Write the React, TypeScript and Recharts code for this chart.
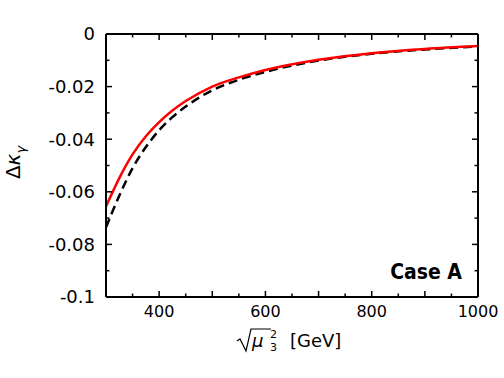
import { LineChart, Line, XAxis, YAxis } from 'recharts'

// sqrt(mu3^2) in GeV
const mu3 = [300, 325, 350, 375, 400, 425, 450, 500, 550, 600, 700, 800, 900, 1000]
// Delta kappa_gamma, full result (red, solid)
const kappaFull = [
  -0.0656, -0.0548, -0.0458, -0.0389, -0.0335, -0.0291, -0.0255, -0.02, -0.0165, -0.0137, -0.0098,
  -0.0073, -0.0057, -0.0046,
]
// Delta kappa_gamma, approximation (black, dashed)
const kappaApprox = [
  -0.0735, -0.0615, -0.051, -0.043, -0.0366, -0.0316, -0.0276, -0.0214, -0.0174, -0.0144, -0.0101,
  -0.0075, -0.0059, -0.0047,
]

const xTicks = [300, 350, 400, 450, 500, 550, 600, 650, 700, 750, 800, 850, 900, 950, 1000]
const xLabels = [400, 600, 800, 1000]
const yTicks = [-0.1, -0.09, -0.08, -0.07, -0.06, -0.05, -0.04, -0.03, -0.02, -0.01, 0]
const yLabels = [-0.1, -0.08, -0.06, -0.04, -0.02, 0]

const data = mu3.map((x, i) => ({ x, full: kappaFull[i], approx: kappaApprox[i] }))

const FONT = "'DejaVu Sans', sans-serif"
const MAJOR = 6
const MINOR = 3.5

const isMajorX = (v: number) => v % 100 === 0
const isMajorY = (v: number) => yLabels.includes(v)

function BottomTick({ x, y, payload }: any) {
  const v = payload.value
  const len = isMajorX(v) ? MAJOR : MINOR
  return (
    <g>
      <line x1={x} y1={y} x2={x} y2={y - len} stroke="#000" strokeWidth={1.5} />
      {xLabels.includes(v) && (
        <text x={x} y={y + 20} textAnchor="middle" fontSize={16} fontFamily={FONT} fill="#000">
          {v}
        </text>
      )}
    </g>
  )
}

function TopTick({ x, y, payload }: any) {
  const len = isMajorX(payload.value) ? MAJOR : MINOR
  return <line x1={x} y1={y} x2={x} y2={y + len} stroke="#000" strokeWidth={1.5} />
}

function LeftTick({ x, y, payload }: any) {
  const v = payload.value
  const len = isMajorY(v) ? MAJOR : MINOR
  return (
    <g>
      <line x1={x} y1={y} x2={x + len} y2={y} stroke="#000" strokeWidth={1.5} />
      {yLabels.includes(v) && (
        <text x={x - 11} y={y} dy="0.36em" textAnchor="end" fontSize={18} fontFamily={FONT} fill="#000">
          {String(v)}
        </text>
      )}
    </g>
  )
}

function RightTick({ x, y, payload }: any) {
  const len = isMajorY(payload.value) ? MAJOR : MINOR
  return <line x1={x} y1={y} x2={x - len} y2={y} stroke="#000" strokeWidth={1.5} />
}

function XTitle({ viewBox }: any) {
  const cx = viewBox.x + viewBox.width / 2
  const by = 347
  return (
    <g fontFamily={FONT} fill="#000">
      <path
        d={`M${cx - 55},${by - 6} L${cx - 52},${by - 8} L${cx - 46},${by + 4} L${cx - 41},${by - 18} L${cx - 21},${by - 18}`}
        stroke="#000"
        strokeWidth={1.2}
        fill="none"
      />
      <text fontSize={18}>
        <tspan x={cx - 40} y={by} fontStyle="italic">
          μ
        </tspan>
        <tspan x={cx - 22} y={by - 9} fontSize={11}>
          2
        </tspan>
        <tspan x={cx - 22} y={by + 4} fontSize={11}>
          3
        </tspan>
        <tspan x={cx - 2} y={by}>
          [GeV]
        </tspan>
      </text>
    </g>
  )
}

function YTitle({ viewBox }: any) {
  const cx = 20
  const cy = viewBox.y + viewBox.height / 2 - 3
  return (
    <text
      transform={`translate(${cx},${cy}) rotate(-90)`}
      textAnchor="middle"
      fontSize={20}
      fontFamily={FONT}
      fill="#000"
    >
      Δ<tspan fontStyle="italic">κ</tspan>
      <tspan fontSize={13} fontStyle="italic" dy={5}>
        γ
      </tspan>
    </text>
  )
}

export default function App() {
  return (
    <div style={{ position: 'absolute', left: 0, top: 0 }}>
      <LineChart width={504} height={378} data={data} margin={{ top: 34, right: 26, bottom: 0, left: 0 }}>
        <XAxis
          dataKey="x"
          type="number"
          domain={[300, 1000]}
          allowDataOverflow
          ticks={xTicks}
          interval={0}
          height={81}
          tickSize={0}
          tickMargin={0}
          tickLine={false}
          axisLine={{ stroke: '#000', strokeWidth: 2 }}
          tick={<BottomTick />}
          label={<XTitle />}
        />
        <XAxis
          xAxisId="top"
          orientation="top"
          mirror
          dataKey="x"
          type="number"
          domain={[300, 1000]}
          allowDataOverflow
          ticks={xTicks}
          interval={0}
          tickSize={0}
          tickMargin={0}
          tickLine={false}
          axisLine={{ stroke: '#000', strokeWidth: 2 }}
          tick={<TopTick />}
        />
        <YAxis
          type="number"
          domain={[-0.1, 0]}
          allowDataOverflow
          ticks={yTicks}
          interval={0}
          width={106}
          tickSize={0}
          tickMargin={0}
          tickLine={false}
          axisLine={{ stroke: '#000', strokeWidth: 2 }}
          tick={<LeftTick />}
          label={<YTitle />}
        />
        <YAxis
          yAxisId="right"
          orientation="right"
          mirror
          dataKey="full"
          type="number"
          domain={[-0.1, 0]}
          allowDataOverflow
          ticks={yTicks}
          interval={0}
          tickSize={0}
          tickMargin={0}
          tickLine={false}
          axisLine={{ stroke: '#000', strokeWidth: 2 }}
          tick={<RightTick />}
        />
        <Line
          dataKey="approx"
          type="monotone"
          stroke="#000"
          strokeWidth={2.5}
          strokeDasharray="9 5"
          dot={false}
          isAnimationActive={false}
        />
        <Line dataKey="full" type="monotone" stroke="#ff0000" strokeWidth={2.5} dot={false} isAnimationActive={false} />
        <text
          x={462}
          y={279}
          textAnchor="end"
          fontSize={21}
          fontWeight="bold"
          fontFamily="'DejaVu Sans Condensed', 'Liberation Sans', sans-serif"
          fill="#000"
        >
          Case A
        </text>
      </LineChart>
    </div>
  )
}
